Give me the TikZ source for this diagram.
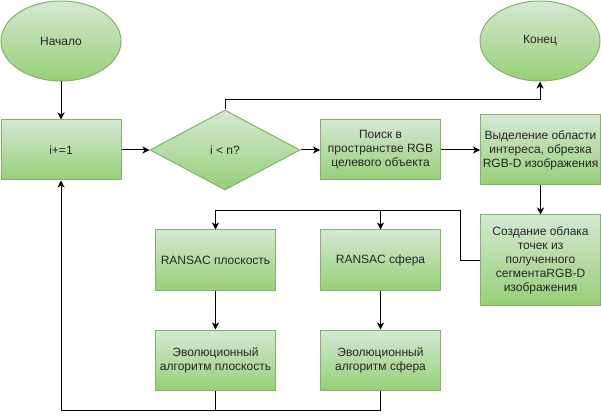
\documentclass[tikz,border=0pt]{standalone}
\usepackage{fontspec}
\setmainfont{Liberation Sans}
\usetikzlibrary{shapes.geometric,arrows.meta}
\definecolor{boxtop}{HTML}{D5E8D4}
\definecolor{boxbot}{HTML}{97D077}
\definecolor{boxline}{HTML}{82B366}
\begin{document}
\begin{tikzpicture}[x=1pt, y=-1pt,
  greenbox/.style={draw=boxline, line width=1pt, top color=boxtop, bottom color=boxbot, align=center, inner sep=0pt, text=black!85, font=\fontsize{12}{14}\selectfont},
  procbox/.style={greenbox, rectangle, minimum width=120pt, minimum height=60pt},
  termnode/.style={greenbox, ellipse, minimum width=120pt, minimum height=80pt},
  decnode/.style={greenbox, diamond, minimum width=150pt, minimum height=80pt},
  flow/.style={line width=1pt, -{Stealth[length=7pt, width=7pt, inset=2pt]}},
  link/.style={line width=1pt}]
\useasboundingbox (0,0) rectangle (601,419);
\node[termnode] (start) at (61,41) {Начало};
\node[termnode] (finish) at (540,41) {Конец};
\node[procbox] (inc) at (61,150) {i+=1};
\node[decnode] (cond) at (225,150) {i < n?};
\node[procbox] (search) at (380.5,150) {Поиск в\\пространстве RGB\\целевого объекта};
\node[procbox, minimum height=70pt] (roi) at (540.5,150) {Выделение области\\интереса, обрезка\\RGB-D изображения};
\node[procbox, minimum height=90pt] (cloud) at (540.5,260) {Создание облака\\точек из\\полученного\\сегментаRGB-D\\изображения};
\node[procbox] (rplane) at (215.5,260) {RANSAC плоскость};
\node[procbox] (rsphere) at (380.5,260) {RANSAC сфера};
\node[procbox] (eplane) at (215.5,360) {Эволюционный\\алгоритм плоскость};
\node[procbox] (esphere) at (380.5,360) {Эволюционный\\алгоритм сфера};
\coordinate (split) at (460.5,210.5);
\coordinate (back) at (61,410.5);
\draw[flow] (start) -- (inc);
\draw[flow] (inc) -- (cond);
\draw[flow] (cond.north) -- ++(0,-10) -| (finish.south);
\draw[flow] (cond) -- (search);
\draw[flow] (search) -- (roi);
\draw[flow] (roi) -- (cloud);
\draw[link] (cloud.west) -| (split);
\draw[flow] (split) -| (rplane.north);
\draw[flow] (rsphere.north |- split) -- (rsphere.north);
\draw[flow] (rplane) -- (eplane);
\draw[flow] (rsphere) -- (esphere);
\draw[link] (eplane.south) -- (eplane.south |- back);
\draw[flow] (esphere.south) |- (back) -- (inc.south);
\end{tikzpicture}
\end{document}
